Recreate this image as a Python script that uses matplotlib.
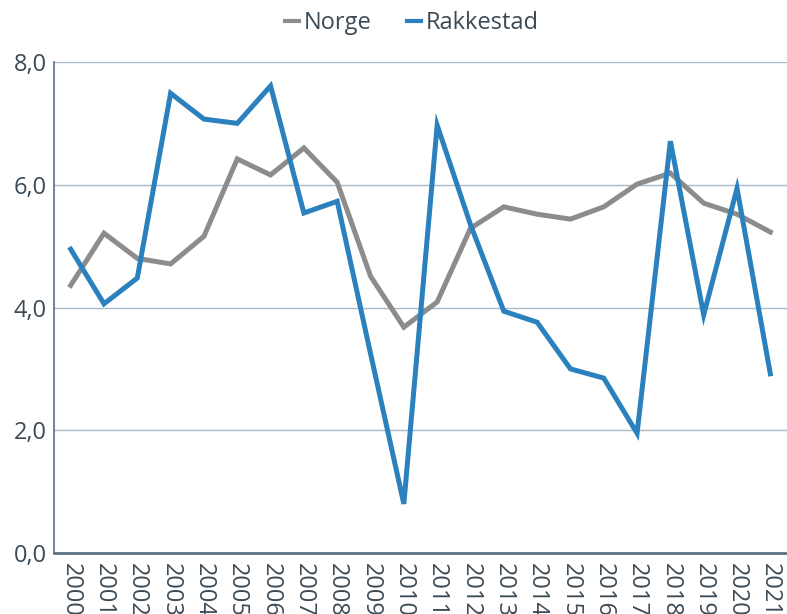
import matplotlib
matplotlib.use("Agg")
import matplotlib.pyplot as plt

plt.rcParams['font.family'] = ['Open Sans', 'DejaVu Sans']

years = [str(y) for y in range(2000, 2022)]
norge = [4.36, 5.21, 4.80, 4.71, 5.16, 6.42, 6.16, 6.60, 6.04, 4.51, 3.68,
         4.09, 5.29, 5.64, 5.52, 5.44, 5.64, 6.01, 6.19, 5.70, 5.52, 5.23]
rakkestad = [4.95, 4.06, 4.48, 7.49, 7.07, 7.00, 7.61, 5.54, 5.73, 3.25, 0.80,
             6.97, 5.35, 3.94, 3.76, 3.00, 2.85, 1.95, 6.71, 3.88, 5.94, 2.92]
yticks = [0, 2, 4, 6, 8]

text_col = '#3c4a55'
spine_col = '#5d7080'
grid_col = '#a9b9c8'

fig = plt.figure(figsize=(7.87, 6.14), dpi=100)
ax = fig.add_axes([54 / 787, 1 - 553 / 614, 1 - 54 / 787, (553 - 62) / 614])

x = list(range(len(years)))
ax.plot(x, norge, color='#8c8c8c', lw=3.6, label='Norge', solid_joinstyle='miter')
ax.plot(x, rakkestad, color='#2a81bd', lw=3.6, label='Rakkestad', solid_joinstyle='miter')

ax.set_xlim(-0.5, len(years) - 0.5)
ax.set_ylim(0, 8)
ax.set_yticks(yticks)
ax.yaxis.set_major_formatter(matplotlib.ticker.FuncFormatter(lambda v, p: ('%.1f' % v).replace('.', ',')))
ax.set_xticks(x)
ax.set_xticklabels(years, rotation=-90, va='top', ha='center')

ax.grid(axis='y', color=grid_col, lw=1)
ax.set_axisbelow(True)
for s in ['top', 'right']:
    ax.spines[s].set_visible(False)
ax.spines['left'].set_color(spine_col)
ax.spines['bottom'].set_color(spine_col)
ax.spines['left'].set_linewidth(1.2)
ax.spines['bottom'].set_linewidth(2)
ax.tick_params(axis='both', length=0, labelsize=17, colors=text_col, pad=5)
ax.tick_params(axis='x', pad=7)

leg = fig.legend(loc='center', bbox_to_anchor=(412 / 787, 1 - 23 / 614), ncol=2,
                 frameon=False, fontsize=17, handlelength=0.6, handletextpad=0.2,
                 columnspacing=1.5)
for t in leg.get_texts():
    t.set_color(text_col)
for h in leg.get_lines():
    h.set_linewidth(3)

fig.savefig('out.png', dpi=100)
